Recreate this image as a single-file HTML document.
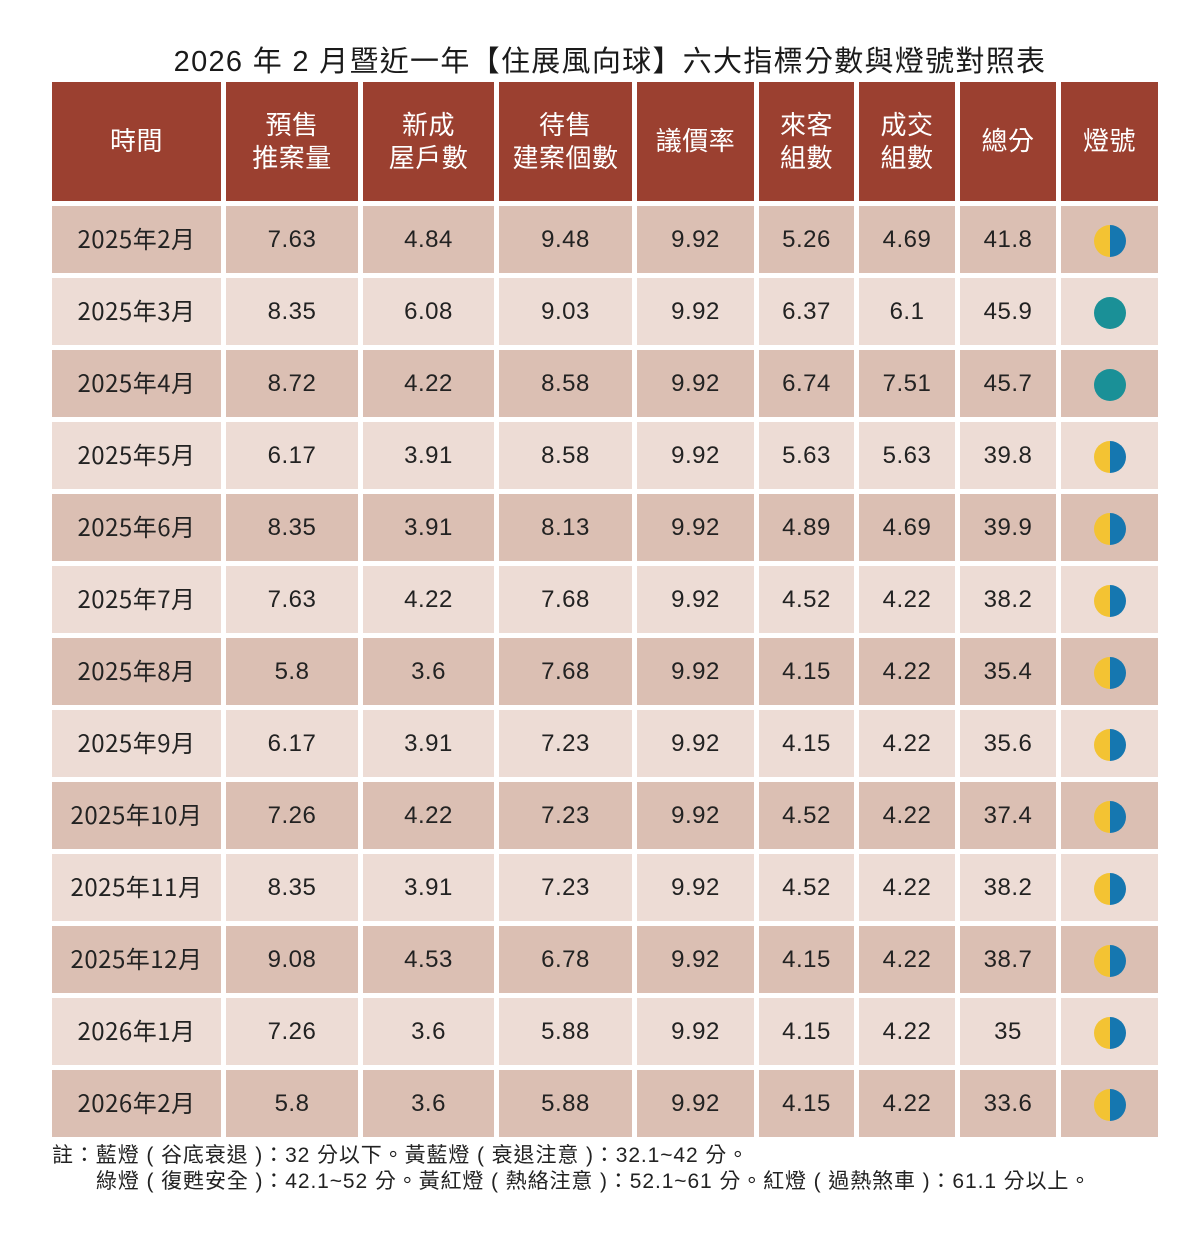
<!DOCTYPE html>
<html><head><meta charset="utf-8"><style>
body{margin:0;background:#fff;width:1200px;height:1257px;position:relative;font-family:"Liberation Sans","Noto Sans CJK TC",sans-serif;}
.t{position:absolute;top:38px;left:0;width:1220px;text-align:center;font-size:29px;letter-spacing:1.3px;color:#1a1a1a;}
table{position:absolute;left:47px;top:77px;border-spacing:5px 5px;table-layout:fixed;}
td,th{padding:0;text-align:center;font-size:24px;color:#222;font-weight:normal;letter-spacing:0.5px;}
th{background:#9b4030;color:#fff;height:119px;line-height:33px;font-size:26px;}
td{height:67px;line-height:67px;}
td span.m{font-family:"Noto Sans CJK TC",sans-serif;font-size:24px;vertical-align:top;line-height:64px;}
tr.d td{background:#dbbfb3;}
tr.l td{background:#eddcd5;}
.c{display:inline-block;width:32px;height:32px;border-radius:50%;vertical-align:middle;background:linear-gradient(90deg,#f3c333 50%,#1577b0 50%);}
.g{background:#1a9097;}
.n{position:absolute;left:52px;top:1143px;font-size:21px;letter-spacing:0.9px;color:#222;line-height:26px;white-space:nowrap;}
</style></head><body>
<div class="t">2026 年 2 月暨近一年【住展風向球】六大指標分數與燈號對照表</div>
<table>
<colgroup><col style="width:169px"><col style="width:132px"><col style="width:131px"><col style="width:133px"><col style="width:117px"><col style="width:95px"><col style="width:96px"><col style="width:96px"><col style="width:97px"></colgroup>
<tr><th>時間</th><th>預售<br>推案量</th><th>新成<br>屋戶數</th><th>待售<br>建案個數</th><th>議價率</th><th>來客<br>組數</th><th>成交<br>組數</th><th>總分</th><th>燈號</th></tr>
<tr class="d"><td><span class="m">2025年2月</span></td><td>7.63</td><td>4.84</td><td>9.48</td><td>9.92</td><td>5.26</td><td>4.69</td><td>41.8</td><td><span class="c"></span></td></tr>
<tr class="l"><td><span class="m">2025年3月</span></td><td>8.35</td><td>6.08</td><td>9.03</td><td>9.92</td><td>6.37</td><td>6.1</td><td>45.9</td><td><span class="c g"></span></td></tr>
<tr class="d"><td><span class="m">2025年4月</span></td><td>8.72</td><td>4.22</td><td>8.58</td><td>9.92</td><td>6.74</td><td>7.51</td><td>45.7</td><td><span class="c g"></span></td></tr>
<tr class="l"><td><span class="m">2025年5月</span></td><td>6.17</td><td>3.91</td><td>8.58</td><td>9.92</td><td>5.63</td><td>5.63</td><td>39.8</td><td><span class="c"></span></td></tr>
<tr class="d"><td><span class="m">2025年6月</span></td><td>8.35</td><td>3.91</td><td>8.13</td><td>9.92</td><td>4.89</td><td>4.69</td><td>39.9</td><td><span class="c"></span></td></tr>
<tr class="l"><td><span class="m">2025年7月</span></td><td>7.63</td><td>4.22</td><td>7.68</td><td>9.92</td><td>4.52</td><td>4.22</td><td>38.2</td><td><span class="c"></span></td></tr>
<tr class="d"><td><span class="m">2025年8月</span></td><td>5.8</td><td>3.6</td><td>7.68</td><td>9.92</td><td>4.15</td><td>4.22</td><td>35.4</td><td><span class="c"></span></td></tr>
<tr class="l"><td><span class="m">2025年9月</span></td><td>6.17</td><td>3.91</td><td>7.23</td><td>9.92</td><td>4.15</td><td>4.22</td><td>35.6</td><td><span class="c"></span></td></tr>
<tr class="d"><td><span class="m">2025年10月</span></td><td>7.26</td><td>4.22</td><td>7.23</td><td>9.92</td><td>4.52</td><td>4.22</td><td>37.4</td><td><span class="c"></span></td></tr>
<tr class="l"><td><span class="m">2025年11月</span></td><td>8.35</td><td>3.91</td><td>7.23</td><td>9.92</td><td>4.52</td><td>4.22</td><td>38.2</td><td><span class="c"></span></td></tr>
<tr class="d"><td><span class="m">2025年12月</span></td><td>9.08</td><td>4.53</td><td>6.78</td><td>9.92</td><td>4.15</td><td>4.22</td><td>38.7</td><td><span class="c"></span></td></tr>
<tr class="l"><td><span class="m">2026年1月</span></td><td>7.26</td><td>3.6</td><td>5.88</td><td>9.92</td><td>4.15</td><td>4.22</td><td>35</td><td><span class="c"></span></td></tr>
<tr class="d"><td><span class="m">2026年2月</span></td><td>5.8</td><td>3.6</td><td>5.88</td><td>9.92</td><td>4.15</td><td>4.22</td><td>33.6</td><td><span class="c"></span></td></tr>
</table>
<div class="n">註：藍燈 ( 谷底衰退 )：32 分以下。黃藍燈 ( 衰退注意 )：32.1~42 分。<br><span style="padding-left:44px">綠燈 ( 復甦安全 )：42.1~52 分。黃紅燈 ( 熱絡注意 )：52.1~61 分。紅燈 ( 過熱煞車 )：61.1 分以上。</span></div>
</body></html>
